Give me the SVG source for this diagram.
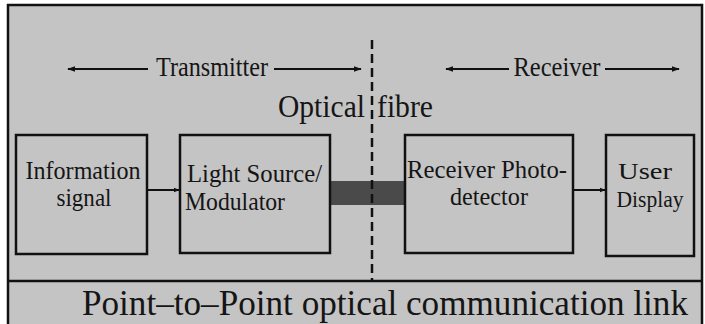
<svg xmlns="http://www.w3.org/2000/svg" width="705" height="324" viewBox="0 0 705 324">
<style>
  .frame { fill: none; stroke: #111; stroke-width: 2.5; }
  .box { fill: none; stroke: #111; stroke-width: 2.5; }
  .t { font-family: "Liberation Serif", "DejaVu Serif", serif; fill: #151515; }
  .lbl { font-size: 26px; }
  .conn { stroke: #111; stroke-width: 2; fill: none; }
</style>
<defs>
  <marker id="ah" viewBox="0 0 10 10" refX="9" refY="5" markerWidth="6" markerHeight="6" orient="auto-start-reverse" markerUnits="userSpaceOnUse">
    <path d="M0,1 L10,5 L0,9 Z" fill="#111"/>
  </marker>
  <marker id="ah2" viewBox="0 0 10 10" refX="9" refY="5" markerWidth="8" markerHeight="8" orient="auto-start-reverse" markerUnits="userSpaceOnUse">
    <path d="M0,1.5 L10,5 L0,8.5 Z" fill="#111"/>
  </marker>
</defs>
<rect x="0" y="0" width="705" height="324" fill="#ffffff"/>
<rect x="8" y="5" width="694" height="319" fill="#c4c4c4"/>
<g id="frame">
  <path class="frame" d="M8,324 V5 H702 V324"/>
  <line x1="8" y1="281" x2="702" y2="281" stroke="#111" stroke-width="2.5"/>
</g>
<g id="labels">
  <text class="t" x="212" y="76" font-size="27" text-anchor="middle" textLength="112" lengthAdjust="spacingAndGlyphs">Transmitter</text>
  <text class="t" x="557" y="76" font-size="27" text-anchor="middle" textLength="87" lengthAdjust="spacingAndGlyphs">Receiver</text>
  <text class="t" x="278" y="117" font-size="31" textLength="87" lengthAdjust="spacingAndGlyphs">Optical</text>
  <text class="t" x="377" y="117" font-size="31" textLength="56" lengthAdjust="spacingAndGlyphs">fibre</text>
</g>
<g id="connectors">
  <line class="conn" x1="148" y1="69" x2="68" y2="69" marker-end="url(#ah2)"/>
  <line class="conn" x1="274" y1="69" x2="361" y2="69" marker-end="url(#ah2)"/>
  <line class="conn" x1="509" y1="69" x2="446" y2="69" marker-end="url(#ah2)"/>
  <line class="conn" x1="605" y1="69" x2="679" y2="69" marker-end="url(#ah2)"/>
  <line class="conn" x1="147" y1="190" x2="179" y2="190" marker-end="url(#ah)"/>
  <line class="conn" x1="573" y1="190" x2="605" y2="190" marker-end="url(#ah)"/>
  <rect id="fibre" x="330" y="181" width="75" height="24" fill="#4a4a4a"/>
  <line x1="372" y1="40" x2="372" y2="280" stroke="#111" stroke-width="2.5" stroke-dasharray="9 5"/>
</g>
<g id="info">
  <rect class="box" x="16" y="135" width="131" height="119"/>
  <text class="t lbl" x="83" y="179" text-anchor="middle" textLength="115" lengthAdjust="spacingAndGlyphs">Information</text>
  <text class="t lbl" x="84" y="206" text-anchor="middle" textLength="55" lengthAdjust="spacingAndGlyphs">signal</text>
</g>
<g id="source">
  <rect class="box" x="180" y="135" width="150" height="118"/>
  <text class="t lbl" x="187" y="182" textLength="135" lengthAdjust="spacingAndGlyphs">Light Source/</text>
  <text class="t lbl" x="185" y="210" textLength="100" lengthAdjust="spacingAndGlyphs">Modulator</text>
</g>
<g id="receiver">
  <rect class="box" x="405" y="135" width="168" height="118"/>
  <text class="t lbl" x="487" y="178" text-anchor="middle" textLength="160" lengthAdjust="spacingAndGlyphs">Receiver Photo-</text>
  <text class="t lbl" x="489" y="205" text-anchor="middle" textLength="78" lengthAdjust="spacingAndGlyphs">detector</text>
</g>
<g id="display">
  <rect class="box" x="606" y="135" width="88" height="121"/>
  <text class="t" x="645" y="179" font-size="24" text-anchor="middle" textLength="54" lengthAdjust="spacingAndGlyphs">User</text>
  <text class="t" x="650" y="207" font-size="24" text-anchor="middle" textLength="67" lengthAdjust="spacingAndGlyphs">Display</text>
</g>
<g id="caption">
  <text class="t" x="82" y="315" font-size="35" textLength="606" lengthAdjust="spacingAndGlyphs">Point–to–Point optical communication link</text>
</g>
</svg>
